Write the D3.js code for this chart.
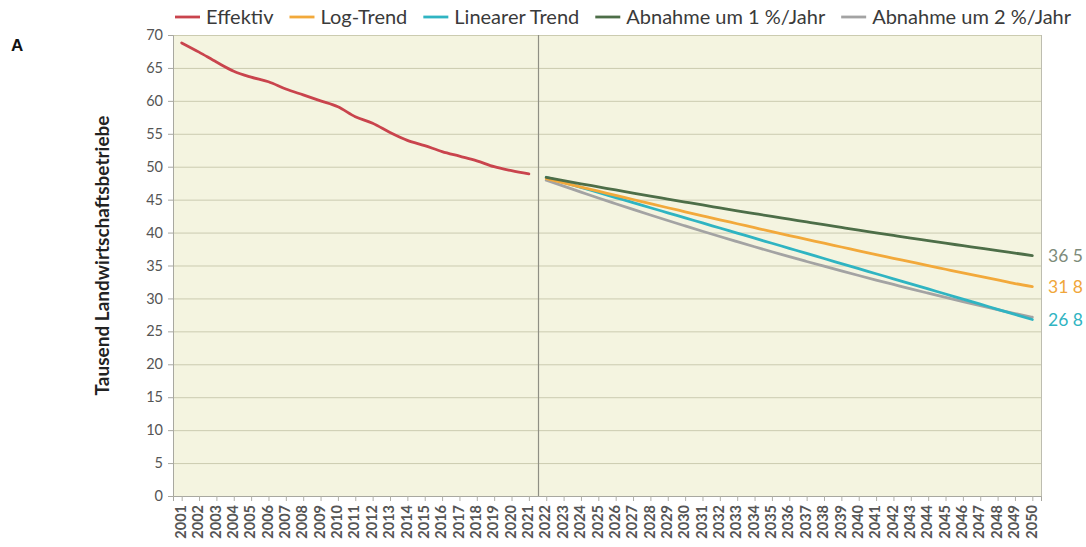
<!DOCTYPE html>
<html>
<head>
<meta charset="utf-8">
<script src="https://cdn.jsdelivr.net/npm/d3@7"></script>
<style>
  html, body { margin: 0; padding: 0; background: #ffffff; }
  svg { display: block; }
</style>
</head>
<body>
<svg id="chart" width="1086" height="547"></svg>
<script>
// ---- data ----
const years = [2001,2002,2003,2004,2005,2006,2007,2008,2009,2010,
  2011,2012,2013,2014,2015,2016,2017,2018,2019,2020,
  2021,2022,2023,2024,2025,2026,2027,2028,2029,2030,
  2031,2032,2033,2034,2035,2036,2037,2038,2039,2040,
  2041,2042,2043,2044,2045,2046,2047,2048,2049,2050];
const histYears = years.slice(0, 21);   // 2001-2021
const projYears = years.slice(21);      // 2022-2050

const effektiv = [68.8, 67.4, 65.9, 64.5, 63.6, 62.9, 61.8, 60.9, 60.0, 59.1,
  57.6, 56.6, 55.2, 54.0, 53.2, 52.3, 51.6, 50.9, 50.0, 49.4, 48.9];
const logTrend = [48.2, 47.55, 46.91, 46.28, 45.64, 45.02, 44.39, 43.77, 43.16, 42.55,
  41.94, 41.34, 40.74, 40.14, 39.55, 38.97, 38.38, 37.81, 37.23, 36.66,
  36.10, 35.54, 34.98, 34.43, 33.88, 33.34, 32.80, 32.26, 31.8];
const linearTrend = [48.4, 47.63, 46.86, 46.09, 45.32, 44.55, 43.77, 43.00, 42.23, 41.46,
  40.69, 39.92, 39.15, 38.38, 37.61, 36.84, 36.06, 35.29, 34.52, 33.75,
  32.98, 32.21, 31.44, 30.67, 29.90, 29.13, 28.35, 27.58, 26.8];
const minus1 = [48.38, 47.89, 47.41, 46.94, 46.47, 46.00, 45.54, 45.09, 44.64, 44.19,
  43.75, 43.31, 42.88, 42.45, 42.03, 41.61, 41.19, 40.78, 40.37, 39.97,
  39.57, 39.17, 38.78, 38.39, 38.01, 37.63, 37.25, 36.88, 36.51];
const minus2 = [47.95, 47.05, 46.15, 45.25, 44.38, 43.52, 42.67, 41.83, 41.01, 40.20,
  39.40, 38.62, 37.85, 37.09, 36.34, 35.61, 34.89, 34.18, 33.48, 32.79,
  32.12, 31.45, 30.80, 30.16, 29.53, 28.91, 28.30, 27.70, 27.15];
const yTicks = [0, 5, 10, 15, 20, 25, 30, 35, 40, 45, 50, 55, 60, 65, 70];
const seriesNames = ["Effektiv", "Log-Trend", "Linearer Trend", "Abnahme um 1 %/Jahr", "Abnahme um 2 %/Jahr"];
const endLabels = ["36 5", "31 8", "26 8"];

// ---- styling ----
const colors = {
  "Effektiv": "#c9444d",
  "Log-Trend": "#f2a93b",
  "Linearer Trend": "#2fb4c2",
  "Abnahme um 1 %/Jahr": "#4d6e48",
  "Abnahme um 2 %/Jahr": "#a3a3a3"
};
const FONT = "Lato, 'Open Sans', 'Liberation Sans', sans-serif";

const svg = d3.select("#chart");
const m = { left: 173, right: 1041, top: 35, bottom: 496 };

const x = d3.scalePoint().domain(years).range([m.left, m.right]).padding(0.5);
const y = d3.scaleLinear().domain([0, 70]).range([m.bottom, m.top]);

// plot background
svg.append("rect")
  .attr("x", m.left).attr("y", m.top)
  .attr("width", m.right - m.left).attr("height", m.bottom - m.top)
  .attr("fill", "#f4f4e0");

// horizontal gridlines
svg.append("g").selectAll("line").data(yTicks.filter(d => d > 0)).join("line")
  .attr("x1", m.left).attr("x2", m.right)
  .attr("y1", d => y(d) + 0.5).attr("y2", d => y(d) + 0.5)
  .attr("stroke", "#cbcbb0").attr("stroke-width", 1);

// right border
svg.append("line")
  .attr("x1", m.right + 0.5).attr("x2", m.right + 0.5)
  .attr("y1", m.top).attr("y2", m.bottom + 4)
  .attr("stroke", "#bdbdb0").attr("stroke-width", 1);

// divider between 2021 and 2022
const divX = (x(2021) + x(2022)) / 2;
svg.append("line")
  .attr("x1", Math.round(divX) + 0.5).attr("x2", Math.round(divX) + 0.5)
  .attr("y1", m.top).attr("y2", m.bottom)
  .attr("stroke", "#8f8f84").attr("stroke-width", 1.2);

// y axis
const yAxis = svg.append("g")
  .attr("transform", `translate(${m.left},0)`)
  .call(d3.axisLeft(y).tickValues(yTicks).tickSize(5).tickPadding(5));
yAxis.select(".domain").attr("stroke", "#a8a8a0");
yAxis.selectAll(".tick line").attr("stroke", "#a8a8a0");
yAxis.selectAll(".tick text")
  .attr("font-family", FONT).attr("font-size", 14.5).attr("fill", "#555555");

// x axis
const xAxis = svg.append("g")
  .attr("transform", `translate(0,${m.bottom})`)
  .call(d3.axisBottom(x).tickSize(5).tickPadding(4));
xAxis.select(".domain").attr("stroke", "#a8a8a0");
xAxis.selectAll(".tick line").attr("stroke", "#b0b0a8");
xAxis.selectAll(".tick text")
  .attr("font-family", FONT).attr("font-size", 14.5).attr("font-weight", 700).attr("fill", "#555555")
  .attr("transform", "rotate(-90)")
  .attr("text-anchor", "end")
  .attr("x", -9).attr("y", 0)
  .style("dominant-baseline", "middle")
  .attr("dy", 0);

// y axis label
svg.append("text")
  .attr("transform", `translate(109,${(m.top + m.bottom) / 2 - 10}) rotate(-90)`)
  .attr("text-anchor", "middle")
  .attr("font-family", FONT).attr("font-size", 19).attr("font-weight", 700)
  .attr("fill", "#222222")
  .text("Tausend Landwirtschaftsbetriebe");

// panel letter
svg.append("text")
  .attr("x", 11).attr("y", 51)
  .attr("font-family", "'Liberation Sans', Arial, sans-serif")
  .attr("font-size", 17).attr("font-weight", 700).attr("fill", "#111")
  .text("A");

// lines
const line = d3.line().x(d => x(d[0])).y(d => y(d[1])).curve(d3.curveMonotoneX);
const series = [
  { name: "Effektiv", yrs: histYears, vals: effektiv },
  { name: "Abnahme um 2 %/Jahr", yrs: projYears, vals: minus2 },
  { name: "Linearer Trend", yrs: projYears, vals: linearTrend },
  { name: "Log-Trend", yrs: projYears, vals: logTrend },
  { name: "Abnahme um 1 %/Jahr", yrs: projYears, vals: minus1 }
];
svg.append("g").selectAll("path").data(series).join("path")
  .attr("d", s => line(s.yrs.map((yr, i) => [yr, s.vals[i]])))
  .attr("fill", "none")
  .attr("stroke", s => colors[s.name])
  .attr("stroke-width", 2.8)
  .attr("stroke-linecap", "round")
  .attr("stroke-linejoin", "round");

// end labels
const endData = [
  { label: endLabels[0], v: minus1[minus1.length - 1], c: "#7d8b7a" },
  { label: endLabels[1], v: logTrend[logTrend.length - 1], c: "#f0a63a" },
  { label: endLabels[2], v: linearTrend[linearTrend.length - 1], c: "#2fb4c2" }
];
svg.append("g").selectAll("text").data(endData).join("text")
  .attr("x", m.right + 7)
  .attr("y", d => y(d.v))
  .attr("dy", "0.36em")
  .attr("font-family", FONT).attr("font-size", 17.5)
  .attr("fill", d => d.c)
  .text(d => d.label);

// legend
const legend = svg.append("g").attr("transform", "translate(175,17)");
let lx = 0;
seriesNames.forEach(name => {
  const g = legend.append("g").attr("transform", `translate(${lx},0)`);
  g.append("line").attr("x1", 0).attr("x2", 25).attr("y1", 0).attr("y2", 0)
    .attr("stroke", colors[name]).attr("stroke-width", 2.8);
  const t = g.append("text").attr("x", 31).attr("y", 0).attr("dy", "0.35em")
    .attr("font-family", FONT).attr("font-size", 20).attr("fill", "#3a3a3a")
    .text(name);
  const w = t.node().getComputedTextLength();
  lx += 31 + w + 16;
});
</script>
</body>
</html>
